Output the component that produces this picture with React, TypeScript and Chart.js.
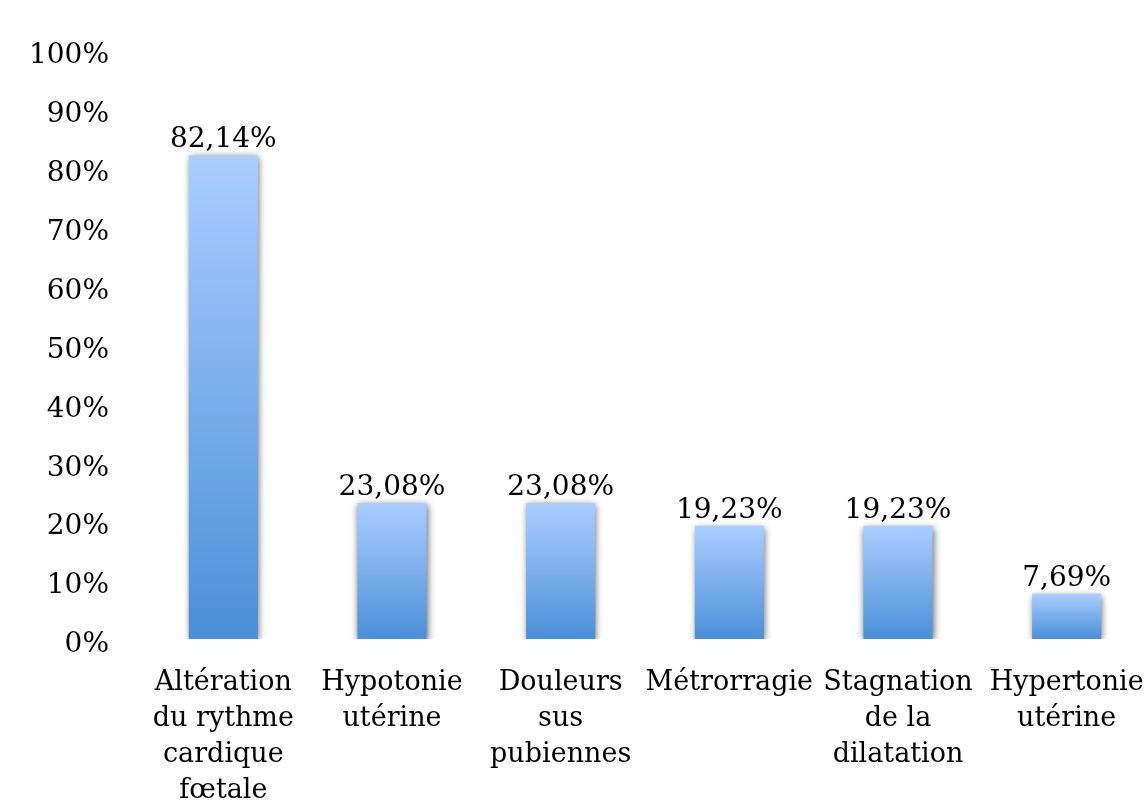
import React, { useEffect, useRef } from "react";
import { Chart, registerables } from "chart.js";

Chart.register(...registerables);

const categories: string[][] = [
  ["Altération", "du rythme", "cardique", "fœtale"],
  ["Hypotonie", "utérine"],
  ["Douleurs", "sus", "pubiennes"],
  ["Métrorragie"],
  ["Stagnation", "de la", "dilatation"],
  ["Hypertonie", "utérine"],
];
const values: number[] = [82.14, 23.08, 23.08, 19.23, 19.23, 7.69];
const yTicks: number[] = [0, 10, 20, 30, 40, 50, 60, 70, 80, 90, 100];

const FONT = "'DejaVu Serif', 'Liberation Serif', serif";

const fmt = (v: number) => v.toFixed(2).replace(".", ",") + "%";

const barDecor = {
  id: "barDecor",
  beforeDatasetsDraw(chart: any) {
    const ctx = chart.ctx;
    ctx.save();
    ctx.shadowColor = "rgba(0,0,0,0.6)";
    ctx.shadowBlur = 7;
    ctx.shadowOffsetX = 1;
    ctx.shadowOffsetY = 2;
  },
  afterDatasetsDraw(chart: any) {
    const ctx = chart.ctx;
    ctx.restore();
    ctx.save();
    ctx.font = `28px ${FONT}`;
    ctx.fillStyle = "#000";
    ctx.textAlign = "center";
    ctx.textBaseline = "alphabetic";
    const meta = chart.getDatasetMeta(0);
    meta.data.forEach((el: any, i: number) => {
      const v = chart.data.datasets[0].data[i] as number;
      ctx.fillText(fmt(v), el.x, el.y - 8);
    });
    ctx.restore();
  },
};

export default function App() {
  const ref = useRef<HTMLCanvasElement | null>(null);
  useEffect(() => {
    document.body.style.margin = "0";
    document.body.style.overflow = "hidden";
    const canvas = ref.current;
    if (!canvas) return;
    const chart = new Chart(canvas, {
      type: "bar",
      data: {
        labels: categories,
        datasets: [
          {
            data: values,
            backgroundColor: (c: any) => {
              const ch = c.chart;
              if (!ch.chartArea || c.type !== "data") return "#7fb0ee";
              const ys = ch.scales.y;
              const top = ys.getPixelForValue(c.raw);
              const bottom = ys.getPixelForValue(0);
              const g = ch.ctx.createLinearGradient(0, top, 0, bottom);
              g.addColorStop(0, "#abcdff");
              g.addColorStop(1, "#4a8fd8");
              return g;
            },
            borderWidth: 0,
            barPercentage: 0.41,
            categoryPercentage: 1,
          },
        ],
      },
      options: {
        animation: false,
        responsive: false,
        maintainAspectRatio: false,
        layout: { padding: { top: 50, left: 0, right: 0, bottom: 0 } },
        plugins: {
          legend: { display: false },
          tooltip: { enabled: false },
          title: { display: false },
        },
        scales: {
          x: {
            grid: { display: false, drawTicks: false },
            border: { display: false },
            ticks: {
              color: "#000",
              font: { family: FONT, size: 27, lineHeight: 1.333 },
              padding: 26,
              maxRotation: 0,
              minRotation: 0,
              autoSkip: false,
            },
            afterFit: (s: any) => {
              s.height = 168;
              s.paddingLeft = 0;
              s.paddingRight = 0;
            },
          },
          y: {
            min: 0,
            max: 100,
            grid: { display: false, drawTicks: false },
            border: { display: false },
            afterBuildTicks: (s: any) => {
              s.ticks = yTicks.map((v) => ({ value: v }));
            },
            ticks: {
              color: "#000",
              font: { family: FONT, size: 28 },
              padding: 30,
              labelOffset: 6,
              callback: (v: any) => `${v}%`,
            },
            afterFit: (s: any) => {
              s.width = 139;
            },
          },
        },
      },
      plugins: [barDecor],
    });
    return () => chart.destroy();
  }, []);
  return (
    <div style={{ width: 1151, height: 807, position: "relative" }}>
      <canvas ref={ref} width={1151} height={807} style={{ display: "block" }} />
    </div>
  );
}
